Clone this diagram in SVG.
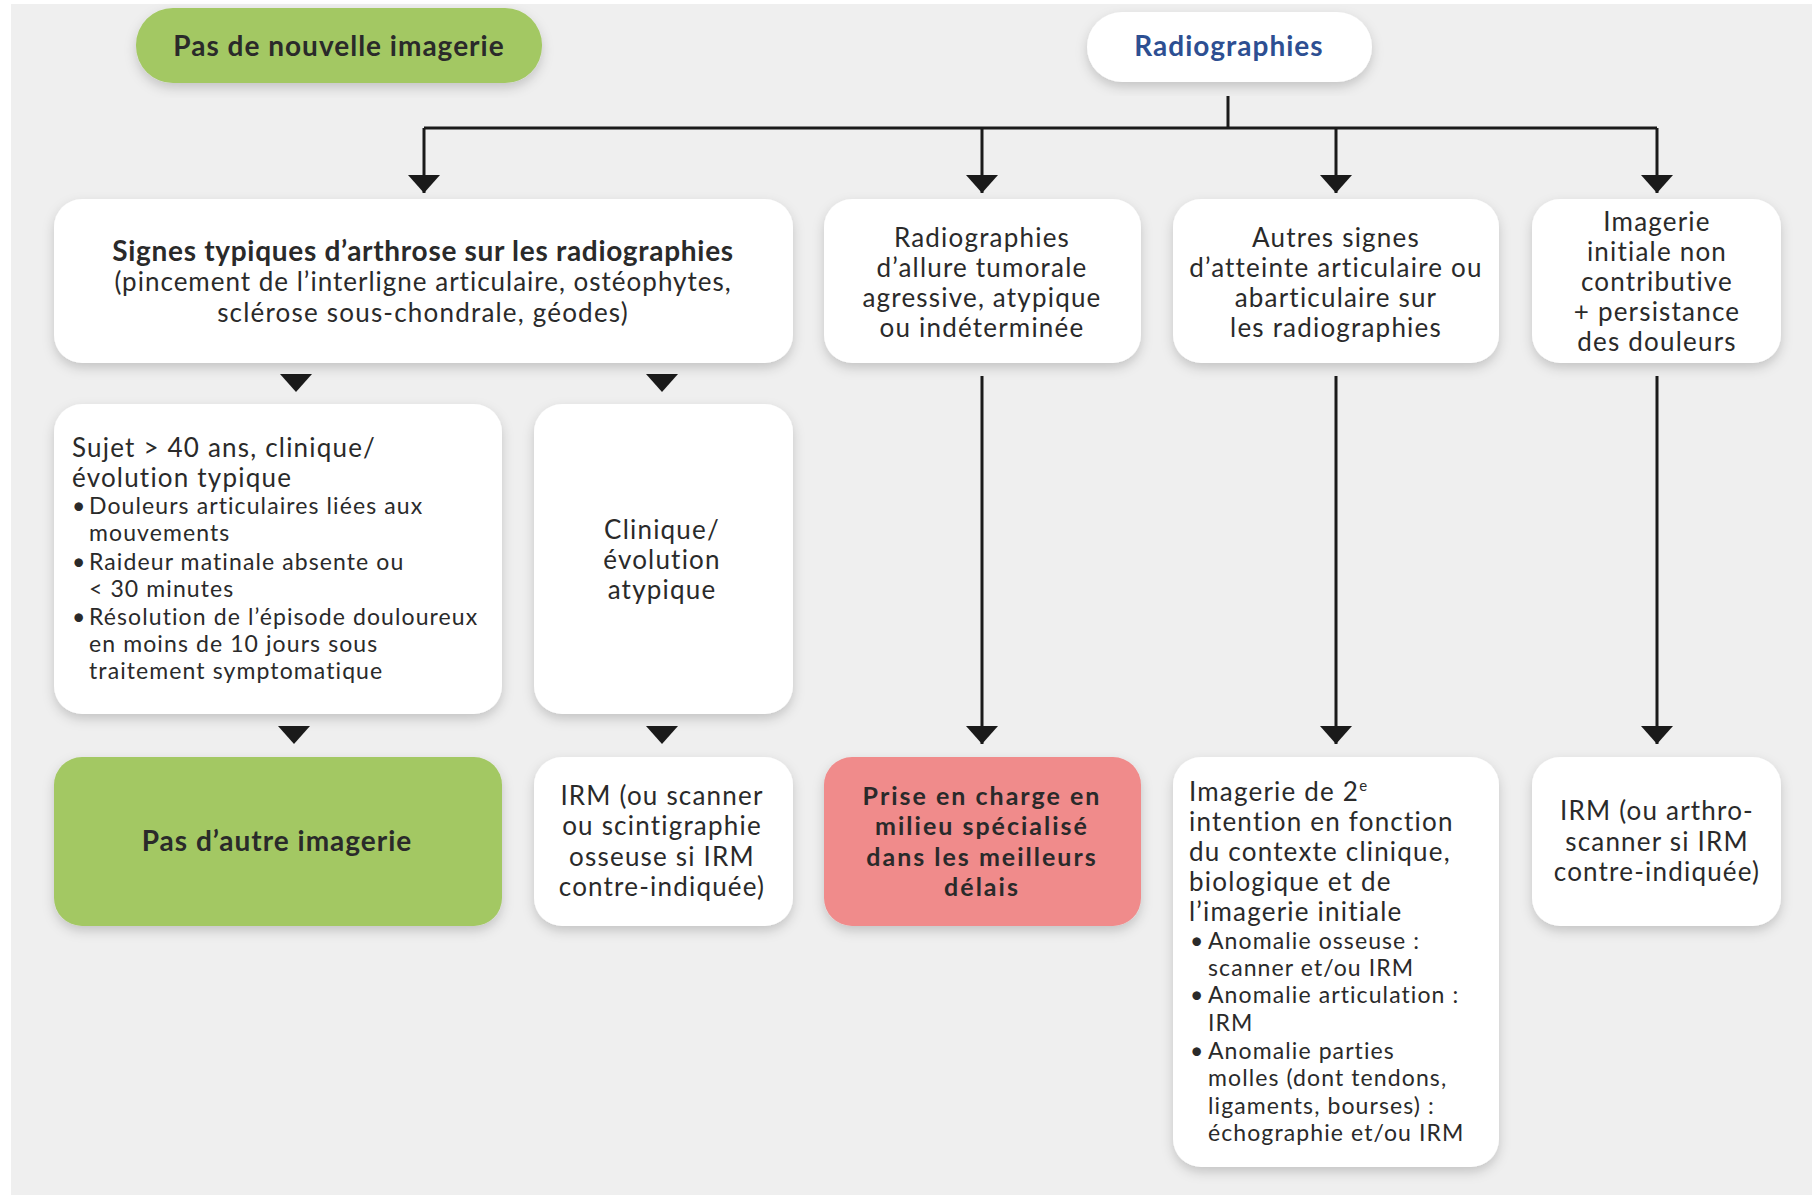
<svg xmlns="http://www.w3.org/2000/svg" width="1812" height="1195" viewBox="0 0 1812 1195">
<defs>
<filter id="sh" x="-10%" y="-10%" width="120%" height="130%">
<feDropShadow dx="0" dy="5" stdDeviation="6" flood-color="#000" flood-opacity="0.18"/>
</filter>
<marker id="ah" markerWidth="18" markerHeight="32" refX="18" refY="16" viewBox="0 0 18 32" markerUnits="userSpaceOnUse" orient="auto">
<path d="M0,0 L18,16 L0,32 Z" fill="#1a1a1a"/>
</marker>
</defs>
<style>
.box{fill:#ffffff;filter:url(#sh);}
.green{fill:#a3c864;filter:url(#sh);}
.red{fill:#f08b8b;filter:url(#sh);}
text{font-family:Lato,"Open Sans","Liberation Sans",sans-serif;fill:#2a2a2a;}
.c{text-anchor:middle;font-size:26px;letter-spacing:1.2px;}
.b{font-weight:bold;font-size:28px;letter-spacing:1px;}
.bp{font-weight:bold;font-size:25px;letter-spacing:2px;}
.l{font-size:26px;letter-spacing:1.2px;}
.s{font-size:23px;letter-spacing:1.1px;}
.line{stroke:#1a1a1a;stroke-width:3;fill:none;}
.tri{fill:#1a1a1a;}
</style>
<rect x="0" y="0" width="1812" height="1195" fill="#ffffff"/>
<rect x="11" y="4" width="1801" height="1191" fill="#efefef"/>

<g id="connectors">
<path class="line" d="M1228,96 V128 M424,128 H1657"/>
<path class="line" d="M424,128 V193" marker-end="url(#ah)"/>
<path class="line" d="M982,128 V193" marker-end="url(#ah)"/>
<path class="line" d="M1336,128 V193" marker-end="url(#ah)"/>
<path class="line" d="M1657,128 V193" marker-end="url(#ah)"/>
<path class="tri" d="M280,374 H312 L296,392 Z"/>
<path class="tri" d="M646,374 H678 L662,392 Z"/>
<path class="tri" d="M278,726 H310 L294,744 Z"/>
<path class="tri" d="M646,726 H678 L662,744 Z"/>
<path class="line" d="M982,376 V744" marker-end="url(#ah)"/>
<path class="line" d="M1336,376 V744" marker-end="url(#ah)"/>
<path class="line" d="M1657,376 V744" marker-end="url(#ah)"/>
</g>

<g id="n-pas-nouvelle">
<rect class="green" x="136" y="8" width="406" height="75" rx="37"/>
<text class="c b" x="339" y="56">Pas de nouvelle imagerie</text>
</g>

<g id="n-radiographies">
<rect class="box" x="1087" y="12" width="285" height="70" rx="35"/>
<text class="c b" x="1229" y="56" style="fill:#2d4f92">Radiographies</text>
</g>

<g id="n-signes">
<rect class="box" x="54" y="199" width="739" height="164" rx="28"/>
<text class="c b" x="423" y="261" style="letter-spacing:0.7px">Signes typiques d’arthrose sur les radiographies</text>
<text class="c" x="423" y="291" style="letter-spacing:1px">(pincement de l’interligne articulaire, ostéophytes,</text>
<text class="c" x="423" y="322">sclérose sous-chondrale, géodes)</text>
</g>

<g id="n-tumorale">
<rect class="box" x="824" y="199" width="317" height="164" rx="28"/>
<text class="c" x="982" y="247">Radiographies</text>
<text class="c" x="982" y="277">d’allure tumorale</text>
<text class="c" x="982" y="307">agressive, atypique</text>
<text class="c" x="982" y="337">ou indéterminée</text>
</g>

<g id="n-autres">
<rect class="box" x="1173" y="199" width="326" height="164" rx="28"/>
<text class="c" x="1336" y="247">Autres signes</text>
<text class="c" x="1336" y="277">d’atteinte articulaire ou</text>
<text class="c" x="1336" y="307">abarticulaire sur</text>
<text class="c" x="1336" y="337">les radiographies</text>
</g>

<g id="n-initiale">
<rect class="box" x="1532" y="199" width="249" height="164" rx="28"/>
<text class="c" x="1657" y="231">Imagerie</text>
<text class="c" x="1657" y="261">initiale non</text>
<text class="c" x="1657" y="291">contributive</text>
<text class="c" x="1657" y="321">+ persistance</text>
<text class="c" x="1657" y="351">des douleurs</text>
</g>

<g id="n-sujet">
<rect class="box" x="54" y="404" width="448" height="310" rx="28"/>
<text class="l" x="72" y="457">Sujet &gt; 40 ans, clinique/</text>
<text class="l" x="72" y="487">évolution typique</text>
<text class="s" x="72" y="514">•</text><text class="s" x="89" y="514">Douleurs articulaires liées aux</text>
<text class="s" x="89" y="541">mouvements</text>
<text class="s" x="72" y="570">•</text><text class="s" x="89" y="570">Raideur matinale absente ou</text>
<text class="s" x="89" y="597">&lt; 30 minutes</text>
<text class="s" x="72" y="625">•</text><text class="s" x="89" y="625">Résolution de l’épisode douloureux</text>
<text class="s" x="89" y="652">en moins de 10 jours sous</text>
<text class="s" x="89" y="679">traitement symptomatique</text>
</g>

<g id="n-atypique">
<rect class="box" x="534" y="404" width="259" height="310" rx="28"/>
<text class="c" x="662" y="539">Clinique/</text>
<text class="c" x="662" y="569">évolution</text>
<text class="c" x="662" y="599">atypique</text>
</g>

<g id="n-pas-autre">
<rect class="green" x="54" y="757" width="448" height="169" rx="28"/>
<text class="c b" x="277" y="851">Pas d’autre imagerie</text>
</g>

<g id="n-irm-scanner">
<rect class="box" x="534" y="757" width="259" height="169" rx="28"/>
<text class="c" x="662" y="805">IRM (ou scanner</text>
<text class="c" x="662" y="835">ou scintigraphie</text>
<text class="c" x="662" y="866">osseuse si IRM</text>
<text class="c" x="662" y="896">contre-indiquée)</text>
</g>

<g id="n-prise">
<rect class="red" x="824" y="757" width="317" height="169" rx="28"/>
<text class="c bp" x="982" y="805">Prise en charge en</text>
<text class="c bp" x="982" y="835">milieu spécialisé</text>
<text class="c bp" x="982" y="866">dans les meilleurs</text>
<text class="c bp" x="982" y="896">délais</text>
</g>

<g id="n-seconde">
<rect class="box" x="1173" y="757" width="326" height="410" rx="28"/>
<text class="l" x="1189" y="801">Imagerie de 2<tspan dy="-10" style="font-size:15px">e</tspan></text>
<text class="l" x="1189" y="831">intention en fonction</text>
<text class="l" x="1189" y="861">du contexte clinique,</text>
<text class="l" x="1189" y="891">biologique et de</text>
<text class="l" x="1189" y="921">l’imagerie initiale</text>
<text class="s" x="1190" y="949">•</text><text class="s" x="1208" y="949">Anomalie osseuse :</text>
<text class="s" x="1208" y="976">scanner et/ou IRM</text>
<text class="s" x="1190" y="1003">•</text><text class="s" x="1208" y="1003">Anomalie articulation :</text>
<text class="s" x="1208" y="1031">IRM</text>
<text class="s" x="1190" y="1059">•</text><text class="s" x="1208" y="1059">Anomalie parties</text>
<text class="s" x="1208" y="1086">molles (dont tendons,</text>
<text class="s" x="1208" y="1114">ligaments, bourses) :</text>
<text class="s" x="1208" y="1141">échographie et/ou IRM</text>
</g>

<g id="n-irm-arthro">
<rect class="box" x="1532" y="757" width="249" height="169" rx="28"/>
<text class="c" x="1657" y="820">IRM (ou arthro-</text>
<text class="c" x="1657" y="851">scanner si IRM</text>
<text class="c" x="1657" y="881">contre-indiquée)</text>
</g>
</svg>
